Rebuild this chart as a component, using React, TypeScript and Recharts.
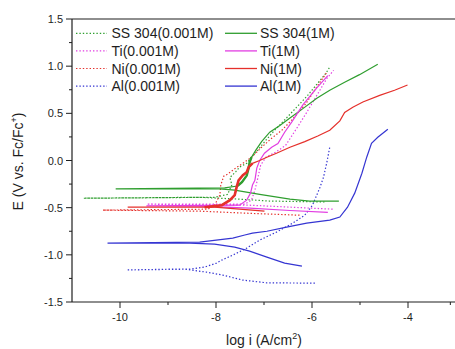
import React from 'react';
import { LineChart, Line, XAxis, YAxis, ReferenceLine, Legend } from 'recharts';

// ---------- data (log i in A/cm2, E in V vs Fc/Fc+) ----------
// each curve: cathodic end -> corrosion tip -> anodic end
const ss304DiluteLogI = [-5.74, -6.88, -7.51, -8.34, -10.76, -8.03, -7.76, -7.67, -7.71, -7.59, -7.51, -7.36, -7.26, -7.13, -6.96, -6.78, -6.57, -6.32, -6.09, -5.88, -5.71, -5.63];
const ss304DiluteE = [-0.44, -0.43, -0.41, -0.39, -0.4, -0.39, -0.36, -0.26, -0.18, -0.12, -0.07, -0.03, 0.035, 0.11, 0.215, 0.32, 0.43, 0.565, 0.69, 0.82, 0.925, 0.99];

const ss304ConcLogI = [-5.44, -6.05, -6.46, -7.09, -7.61, -7.92, -10.09, -7.82, -7.55, -7.46, -7.36, -7.32, -7.3, -7.26, -7.17, -7.05, -6.88, -6.67, -6.46, -6.19, -5.9, -5.63, -5.32, -5.01, -4.63];
const ss304ConcE = [-0.43, -0.43, -0.41, -0.36, -0.315, -0.3, -0.3, -0.29, -0.27, -0.23, -0.16, -0.08, -0.02, 0.035, 0.11, 0.2, 0.3, 0.37, 0.45, 0.55, 0.66, 0.745, 0.83, 0.91, 1.02];

const tiDiluteLogI = [-5.57, -7.3, -9.44, -7.4, -7.26, -7.19, -7.13, -7.07, -6.96, -6.76, -6.55, -6.32, -6.11, -5.9, -5.69, -5.55];
const tiDiluteE = [-0.516, -0.474, -0.463, -0.463, -0.42, -0.315, -0.19, -0.05, 0.035, 0.088, 0.16, 0.34, 0.51, 0.69, 0.87, 0.956];

const tiConcLogI = [-5.67, -6.46, -7.3, -8.34, -9.45, -7.51, -7.36, -7.28, -7.24, -7.19, -7.15, -7.09, -6.99, -6.84, -6.71, -6.57, -6.42, -6.19, -5.9, -5.67];
const tiConcE = [-0.55, -0.53, -0.505, -0.484, -0.48, -0.474, -0.42, -0.346, -0.26, -0.21, -0.08, 0.0, 0.077, 0.14, 0.18, 0.3, 0.41, 0.59, 0.77, 0.9];

const niDiluteLogI = [-6.26, -7.3, -8.34, -10.36, -8.17, -8.03, -7.92, -7.9, -7.84, -7.76, -7.59, -7.44, -7.26, -7.05, -6.84, -6.63, -6.42, -6.13, -5.92, -5.69];
const niDiluteE = [-0.58, -0.56, -0.537, -0.526, -0.516, -0.474, -0.367, -0.26, -0.167, -0.145, -0.08, -0.03, 0.035, 0.14, 0.236, 0.32, 0.43, 0.6, 0.766, 0.935];

const niConcLogI = [-6.99, -7.51, -8.03, -9.84, -8.24, -7.88, -7.71, -7.61, -7.57, -7.53, -7.44, -7.36, -7.32, -7.24, -7.09, -6.94, -6.74, -6.46, -6.15, -5.88, -5.63, -5.42, -5.32, -5.15, -4.94, -4.59, -4.28, -4.01];
const niConcE = [-0.537, -0.516, -0.495, -0.495, -0.495, -0.474, -0.42, -0.367, -0.283, -0.21, -0.156, -0.124, -0.07, -0.03, 0.0, 0.035, 0.077, 0.14, 0.2, 0.26, 0.32, 0.42, 0.51, 0.565, 0.62, 0.69, 0.745, 0.8];

const alDiluteLogI = [-5.94, -6.94, -7.44, -7.86, -8.2, -8.69, -9.86, -8.55, -8.24, -7.99, -7.88, -7.65, -7.36, -7.09, -6.74, -6.4, -6.15, -5.99, -5.84, -5.76, -5.69, -5.63];
const alDiluteE = [-1.3, -1.297, -1.268, -1.215, -1.183, -1.15, -1.16, -1.152, -1.13, -1.088, -1.056, -1.003, -0.929, -0.844, -0.759, -0.664, -0.579, -0.474, -0.293, -0.177, -0.018, 0.141];

const alConcLogI = [-6.21, -6.57, -6.94, -7.3, -7.61, -8.03, -8.55, -10.26, -8.34, -7.65, -7.4, -7.24, -6.94, -6.53, -6.11, -5.63, -5.42, -5.26, -5.11, -4.96, -4.86, -4.76, -4.63, -4.42];
const alConcE = [-1.12, -1.088, -1.024, -0.961, -0.918, -0.887, -0.876, -0.876, -0.865, -0.823, -0.79, -0.77, -0.75, -0.707, -0.664, -0.632, -0.6, -0.495, -0.346, -0.135, 0.035, 0.183, 0.247, 0.332];

const xTicks = [-10, -9, -8, -7, -6, -5, -4, -3];
const yTicks = [-1.5, -1.25, -1, -0.75, -0.5, -0.25, 0, 0.25, 0.5, 0.75, 1, 1.25, 1.5];

const seriesNames = ['SS 304(0.001M)', 'SS 304(1M)', 'Ti(0.001M)', 'Ti(1M)', 'Ni(0.001M)', 'Ni(1M)', 'Al(0.001M)', 'Al(1M)'];

// ---------- styling ----------
const FONT = '"Liberation Sans", Arial, Helvetica, sans-serif';
const GREEN = '#2f9e2f';
const MAGENTA = '#e23ee2';
const RED = '#e5302b';
const BLUE = '#3535d2';
const INK = '#1e1e1e';
const DOT = '1.4 2';

const zip = (xs: number[], ys: number[]) => xs.map((x, i) => ({ x, y: ys[i] }));

const series = [
  { name: seriesNames[0], data: zip(ss304DiluteLogI, ss304DiluteE), color: GREEN, dotted: true },
  { name: seriesNames[2], data: zip(tiDiluteLogI, tiDiluteE), color: MAGENTA, dotted: true },
  { name: seriesNames[4], data: zip(niDiluteLogI, niDiluteE), color: RED, dotted: true },
  { name: seriesNames[6], data: zip(alDiluteLogI, alDiluteE), color: BLUE, dotted: true },
  { name: seriesNames[1], data: zip(ss304ConcLogI, ss304ConcE), color: GREEN, dotted: false },
  { name: seriesNames[3], data: zip(tiConcLogI, tiConcE), color: MAGENTA, dotted: false },
  { name: seriesNames[5], data: zip(niConcLogI, niConcE), color: RED, dotted: false },
  { name: seriesNames[7], data: zip(alConcLogI, alConcE), color: BLUE, dotted: false },
];

// thick (densely sampled) segments of the 1M curves
const niThick = zip(niConcLogI, niConcE).slice(4, 14);
const ssThick = zip(ss304ConcLogI, ss304ConcE).slice(8, 14);

const legendRows = [
  [seriesNames[0], seriesNames[1], GREEN],
  [seriesNames[2], seriesNames[3], MAGENTA],
  [seriesNames[4], seriesNames[5], RED],
  [seriesNames[6], seriesNames[7], BLUE],
];

const XTick = (props: any) => {
  const { x, y, payload } = props;
  const v = payload.value as number;
  const major = Math.abs(v % 2) < 1e-9;
  return (
    <g>
      <line x1={x} y1={y} x2={x} y2={y + (major ? 6 : 3)} stroke={INK} strokeWidth={1} />
      {major && (
        <text x={x} y={y + 19} textAnchor="middle" fontSize={11} fill={INK} fontFamily={FONT}>
          {String(v)}
        </text>
      )}
    </g>
  );
};

const YTick = (props: any) => {
  const { x, y, payload } = props;
  const v = payload.value as number;
  const major = Math.abs(v * 2 - Math.round(v * 2)) < 1e-9;
  return (
    <g>
      <line x1={x - (major ? 6 : 3)} y1={y} x2={x} y2={y} stroke={INK} strokeWidth={1} />
      {major && (
        <text x={x - 9} y={y + 4} textAnchor="end" fontSize={11} fill={INK} fontFamily={FONT}>
          {v.toFixed(1)}
        </text>
      )}
    </g>
  );
};

const XLabel = () => (
  <text x={264} y={345} textAnchor="middle" fontSize={14} fill={INK} fontFamily={FONT}>
    log i (A/cm<tspan fontSize={9} dy={-6}>2</tspan>
    <tspan dy={6}>)</tspan>
  </text>
);

const YLabel = () => (
  <text transform="translate(22.5,161.5) rotate(-90)" textAnchor="middle" fontSize={14} fill={INK} fontFamily={FONT}>
    E (V vs. Fc/Fc<tspan fontSize={9} dy={-6}>+</tspan>
    <tspan dy={6}>)</tspan>
  </text>
);

const LegendBox = () => (
  <svg width={455} height={100} style={{ display: 'block' }}>
    {legendRows.map((row, i) => {
      const cy = 33.3 + i * 17.6;
      return (
        <g key={i}>
          <line x1={76} y1={cy} x2={107} y2={cy} stroke={row[2]} strokeWidth={1.2} strokeDasharray={DOT} />
          <text x={111.5} y={cy + 5} fontSize={14} fill={INK} fontFamily={FONT}>{row[0]}</text>
          <line x1={225} y1={cy} x2={257} y2={cy} stroke={row[2]} strokeWidth={1.3} />
          <text x={260} y={cy + 5} fontSize={14} fill={INK} fontFamily={FONT}>{row[1]}</text>
        </g>
      );
    })}
  </svg>
);

export default function App() {
  return (
    <div style={{ position: 'absolute', left: 0, top: 0, width: 455, height: 349, overflow: 'hidden', background: '#fff' }}>
      <LineChart width={457} height={349} margin={{ top: 19, right: 1, bottom: 0, left: 0 }}>
        <XAxis
          dataKey="x"
          type="number"
          domain={[-11, -3]}
          ticks={xTicks}
          allowDataOverflow
          height={47}
          tickLine={false}
          tickSize={0}
          tickMargin={0}
          tick={<XTick />}
          axisLine={{ stroke: INK, strokeWidth: 1.2 }}
          label={<XLabel />}
        />
        <YAxis
          dataKey="y"
          type="number"
          domain={[-1.5, 1.5]}
          ticks={yTicks}
          allowDataOverflow
          width={72}
          tickLine={false}
          tickSize={0}
          tickMargin={0}
          tick={<YTick />}
          axisLine={{ stroke: INK, strokeWidth: 1.2 }}
          label={<YLabel />}
        />
        <ReferenceLine y={1.5} stroke={INK} strokeWidth={1.2} />
        {series.map((s) => (
          <Line
            key={s.name}
            data={s.data}
            dataKey="y"
            name={s.name}
            type="linear"
            stroke={s.color}
            strokeWidth={s.dotted ? 1.2 : 1.2}
            strokeDasharray={s.dotted ? DOT : undefined}
            dot={false}
            activeDot={false}
            isAnimationActive={false}
          />
        ))}
        <Line data={ssThick} dataKey="y" type="linear" stroke={GREEN} strokeWidth={2.4} dot={false} activeDot={false} legendType="none" isAnimationActive={false} />
        <Line data={niThick} dataKey="y" type="linear" stroke={RED} strokeWidth={2.6} dot={false} activeDot={false} legendType="none" isAnimationActive={false} />
        <Legend
          layout="vertical"
          align="center"
          verticalAlign="middle"
          content={() => <LegendBox />}
          wrapperStyle={{ left: 0, top: 0, width: 455, height: 100 }}
        />
      </LineChart>
    </div>
  );
}
